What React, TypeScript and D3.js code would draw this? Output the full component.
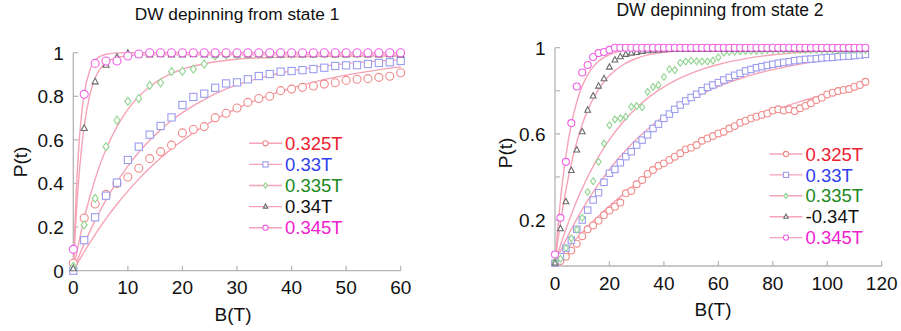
import React from "react";
import * as d3 from "d3";

// ---------- DATA ----------
const seriesNames = ["0.325T", "0.33T", "0.335T", "0.34T", "0.345T"];
const seriesNamesRight = ["0.325T", "0.33T", "0.335T", "-0.34T", "0.345T"];

// Left panel (state 1): measured points at B = 0,2,...,60
const leftB = [0,2,4,6,8,10,12,14,16,18,20,22,24,26,28,30,32,34,36,38,40,42,44,46,48,50,52,54,56,58,60];
const left325 = [0.034,0.242,0.306,0.35,0.40,0.43,0.47,0.514,0.546,0.576,0.632,0.648,0.661,0.702,0.722,0.746,0.772,0.79,0.80,0.826,0.833,0.841,0.847,0.856,0.862,0.873,0.878,0.881,0.887,0.892,0.908];
const left33 = [0,0.14,0.245,0.344,0.404,0.508,0.569,0.624,0.664,0.703,0.76,0.797,0.812,0.839,0.859,0.864,0.878,0.893,0.902,0.913,0.916,0.92,0.925,0.931,0.939,0.942,0.943,0.948,0.953,0.956,0.962];
const left335 = [0.02,0.21,0.332,0.569,0.69,0.777,0.79,0.85,0.862,0.913,0.915,0.925,0.948,0.986,0.99,0.99,0.992,0.992,0.993,0.994,0.994,0.995,0.995,0.995,0.996,0.996,0.996,0.997,0.997,0.997,0.998];
const left34 = [0.01,0.653,0.867,0.943,0.979,0.997,0.99,0.99,0.991,0.99,0.99,0.991,0.99,0.99,0.991,0.99,0.99,0.991,0.99,0.99,0.991,0.99,0.99,0.991,0.99,0.99,0.991,0.99,0.99,0.991,0.99];
const left345 = [0.098,0.809,0.951,0.962,0.962,0.985,0.994,1,1,1,1,1,1,1,1,1,1,1,1,1,1,1,1,1,1,1,1,1,1,1,1];

// Left panel fitted curves, read at these B values
const leftFitB = [0,0.5,1,1.5,2,3,4,5,6,8,10,12,14,16,18,20,25,30,35,40,45,50,55,60];
const leftFit325 = [0,0.0225,0.0444,0.066,0.0869,0.1275,0.166,0.203,0.239,0.305,0.365,0.42,0.471,0.517,0.559,0.597,0.679,0.744,0.796,0.838,0.871,0.897,0.918,0.935];
const leftFit33 = [0,0.032,0.0635,0.094,0.123,0.178,0.231,0.279,0.325,0.407,0.48,0.543,0.598,0.646,0.689,0.725,0.799,0.852,0.889,0.917,0.936,0.95,0.96,0.967];
const leftFit335 = [0,0.066,0.128,0.185,0.239,0.336,0.42,0.494,0.557,0.661,0.74,0.799,0.844,0.879,0.904,0.924,0.954,0.97,0.977,0.981,0.983,0.984,0.985,0.985];
const leftFit34 = [0,0.24,0.422,0.559,0.664,0.803,0.883,0.929,0.955,0.978,0.986,0.989,0.99,0.99,0.99,0.99,0.99,0.99,0.99,0.99,0.99,0.99,0.99,0.99];
const leftFit345 = [0,0.341,0.565,0.713,0.811,0.918,0.964,0.984,0.993,0.999,1,1,1,1,1,1,1,1,1,1,1,1,1,1];

// Right panel (state 2): measured points at B = 0,2,...,114
const rightB = [0,2,4,6,8,10,12,14,16,18,20,22,24,26,28,30,32,34,36,38,40,42,44,46,48,50,52,54,56,58,60,62,64,66,68,70,72,74,76,78,80,82,84,86,88,90,92,94,96,98,100,102,104,106,108,110,112,114];
const right325 = [0,0.01,0.03,0.058,0.09,0.125,0.157,0.175,0.197,0.223,0.244,0.262,0.281,0.324,0.335,0.366,0.386,0.414,0.432,0.452,0.463,0.479,0.494,0.51,0.528,0.536,0.548,0.568,0.579,0.59,0.602,0.61,0.625,0.636,0.652,0.661,0.672,0.68,0.688,0.695,0.708,0.714,0.708,0.714,0.706,0.719,0.73,0.742,0.757,0.768,0.783,0.791,0.799,0.804,0.808,0.819,0.827,0.842];
const right33 = [0,0.03,0.069,0.107,0.157,0.2,0.246,0.293,0.327,0.375,0.417,0.435,0.466,0.494,0.517,0.548,0.571,0.595,0.625,0.645,0.672,0.692,0.714,0.734,0.753,0.769,0.784,0.8,0.816,0.827,0.838,0.85,0.862,0.872,0.881,0.892,0.899,0.907,0.912,0.918,0.923,0.928,0.932,0.935,0.94,0.943,0.946,0.947,0.949,0.952,0.954,0.955,0.958,0.96,0.961,0.963,0.966,0.969];
const right335 = [0.007,0.02,0.07,0.115,0.155,0.21,0.33,0.38,0.47,0.555,0.64,0.667,0.672,0.68,0.726,0.729,0.724,0.795,0.818,0.826,0.864,0.9,0.896,0.93,0.936,0.94,0.937,0.936,0.936,0.94,0.955,0.977,0.98,0.982,0.984,0.985,0.985,0.985,0.986,0.99,0.99,0.99,0.99,0.99,0.99,0.99,0.99,0.99,0.99,0.99,0.99,0.99,0.99,0.99,0.99,0.99,0.99,0.99];
const right34 = [0,0.16,0.285,0.43,0.525,0.61,0.71,0.776,0.822,0.856,0.91,0.943,0.958,0.969,0.975,0.978,0.983,0.986,0.989,0.99,0.991,0.992,0.992,0.992,0.992,0.992,0.992,0.992,0.992,0.992,0.992,0.992,0.992,0.992,0.992,0.992,0.992,0.992,0.992,0.992,0.992,0.992,0.992,0.992,0.992,0.992,0.992,0.992,0.992,0.992,0.992,0.992,0.992,0.992,0.992,0.992,0.992,0.992];
const right345 = [0.04,0.21,0.47,0.65,0.82,0.885,0.92,0.957,0.975,0.98,0.99,1,1,1,1,1,1,1,1,1,1,1,1,1,1,1,1,1,1,1,1,1,1,1,1,1,1,1,1,1,1,1,1,1,1,1,1,1,1,1,1,1,1,1,1,1,1,1];

// Right panel fitted curves
const rightFitB = [0,1,2,3,4,6,8,10,12,14,16,18,20,25,30,35,40,45,50,55,60,70,80,90,100,115];
const rightFit325 = [0,0.015,0.03,0.045,0.06,0.088,0.116,0.143,0.169,0.194,0.218,0.242,0.265,0.319,0.37,0.416,0.46,0.5,0.537,0.571,0.603,0.659,0.708,0.75,0.785,0.83];
const rightFit33 = [0,0.028,0.056,0.082,0.108,0.157,0.204,0.249,0.29,0.33,0.367,0.401,0.435,0.51,0.576,0.632,0.681,0.724,0.76,0.792,0.82,0.865,0.898,0.924,0.943,0.963];
const rightFit335 = [0,0.042,0.082,0.12,0.157,0.225,0.289,0.347,0.4,0.449,0.494,0.535,0.573,0.655,0.721,0.775,0.818,0.853,0.881,0.904,0.922,0.949,0.967,0.978,0.986,0.992];
const rightFit34 = [0,0.099,0.187,0.267,0.339,0.463,0.562,0.644,0.709,0.763,0.807,0.843,0.871,0.921,0.951,0.969,0.979,0.985,0.989,0.991,0.993,0.994,0.995,0.995,0.995,0.995];
const rightFit345 = [0,0.158,0.292,0.404,0.498,0.645,0.748,0.822,0.874,0.911,0.937,0.955,0.968,0.987,0.994,0.998,0.999,1,1,1,1,1,1,1,1,1];

const leftXTicks = [0,10,20,30,40,50,60];
const leftYTicks = [0,0.2,0.4,0.6,0.8,1];
const leftYLabels = ["0","0.2","0.4","0.6","0.8","1"];
const rightXTicks = [0,20,40,60,80,100,120];
const rightYTicks = [0.2,0.4,0.6,0.8,1];
const rightYLabels = ["0.2","","0.6","","1"];

// ---------- STYLE ----------
const FONT = "'Liberation Sans', Arial, Helvetica, sans-serif";
const CURVE = "#f5a3b6";
const AXIS = "#b4b4b4";
const markerColors = ["#f08a8a", "#9c9cf0", "#8fd48f", "#6a6a6a", "#f060e6"];
const textColors = ["#ee2030", "#3040ee", "#208a20", "#111111", "#f020d0"];
const shapes = ["circle", "square", "diamond", "triangle", "circle"];

function Marker({ shape, x, y, s, color }) {
  if (shape === "circle") return <circle cx={x} cy={y} r={s} fill="white" stroke={color} strokeWidth={1.1} />;
  if (shape === "square") return <rect x={x - s} y={y - s} width={2 * s} height={2 * s} fill="white" stroke={color} strokeWidth={1.1} />;
  if (shape === "diamond") return <path d={`M${x},${y - s}L${x + s * 0.75},${y}L${x},${y + s}L${x - s * 0.75},${y}Z`} fill="white" stroke={color} strokeWidth={1.1} />;
  return <path d={`M${x},${y - s}L${x + s * 0.85},${y + s * 0.6}L${x - s * 0.85},${y + s * 0.6}Z`} fill="white" stroke={color} strokeWidth={1.1} />;
}

function Panel({ cfg }) {
  const x = d3.scaleLinear().domain(cfg.xDomain).range(cfg.xRange);
  const y = d3.scaleLinear().domain([0, 1]).range(cfg.yRange);
  const axisY = y(cfg.axisVal);
  const x0 = x(0);
  const line = d3.line().curve(d3.curveMonotoneX);
  const sizes = cfg.markerSizes;
  return (
    <g>
      <text x={cfg.title[0]} y={cfg.title[1]} textAnchor="middle" fontSize={cfg.titleSize} fill="#111" fontFamily={FONT}>{cfg.titleText}</text>
      {/* axes */}
      <line x1={x0} x2={x0} y1={axisY} y2={y(1)} stroke={AXIS} strokeWidth={1.3} />
      <line x1={x0} x2={x(cfg.xDomain[1])} y1={axisY} y2={axisY} stroke={AXIS} strokeWidth={1.3} />
      {cfg.xTicks.map((t) => (
        <g key={"xt" + t}>
          <line x1={x(t)} x2={x(t)} y1={axisY} y2={axisY - 5} stroke={AXIS} strokeWidth={1.2} />
          <text x={x(t)} y={axisY + cfg.xLabelDy} textAnchor="middle" fontSize={19} fill="#111" fontFamily={FONT}>{t}</text>
        </g>
      ))}
      {cfg.yTicks.map((t, i) => (
        <g key={"yt" + t}>
          <line x1={x0} x2={x0 + 5} y1={y(t)} y2={y(t)} stroke={AXIS} strokeWidth={1.2} />
          <text x={x0 - 9.5} y={y(t)} dy="0.36em" textAnchor="end" fontSize={19} fill="#111" fontFamily={FONT}>{cfg.yLabels[i]}</text>
        </g>
      ))}
      <text x={cfg.xLabel[0]} y={cfg.xLabel[1]} textAnchor="middle" fontSize={19} fill="#111" fontFamily={FONT}>B(T)</text>
      <text transform={`translate(${cfg.yLabel[0]},${cfg.yLabel[1]}) rotate(-90)`} dy="0.36em" textAnchor="middle" fontSize={19} fill="#111" fontFamily={FONT}>P(t)</text>
      {/* fitted curves */}
      {cfg.fits.map((f, k) => (
        <path key={"f" + k} d={line(cfg.fitB.map((b, i) => [x(b), y(f[i])]))} fill="none" stroke={CURVE} strokeWidth={1.4} />
      ))}
      {/* data markers */}
      {cfg.series.map((s, k) => (
        <g key={"s" + k}>
          {s.map((v, i) => (
            <Marker key={i} shape={shapes[k]} x={x(cfg.B[i])} y={y(v)} s={sizes[k]} color={markerColors[k]} />
          ))}
        </g>
      ))}
      {/* legend */}
      {cfg.names.map((n, k) => {
        const ly = cfg.legend.y0 + k * cfg.legend.dy;
        const lx = cfg.legend.x0;
        return (
          <g key={"l" + k}>
            <line x1={lx} x2={lx + 33} y1={ly} y2={ly} stroke={CURVE} strokeWidth={1.4} />
            <Marker shape={shapes[k]} x={lx + 16.5} y={ly} s={2.6} color={markerColors[k]} />
            <text x={lx + 36} y={ly} dy="0.36em" fontSize={18.5} fill={textColors[k]} fontFamily={FONT}>{n}</text>
          </g>
        );
      })}
    </g>
  );
}

const leftCfg = {
  xDomain: [0, 60], xRange: [73.3, 400.7], yRange: [270.7, 52.7], axisVal: 0,
  xTicks: leftXTicks, yTicks: leftYTicks, yLabels: leftYLabels, xLabelDy: 23,
  title: [237, 19.5], titleSize: 17.3, titleText: "DW depinning from state 1",
  xLabel: [233, 320.5], yLabel: [20, 162],
  B: leftB, series: [left325, left33, left335, left34, left345],
  fitB: leftFitB, fits: [leftFit325, leftFit33, leftFit335, leftFit34, leftFit345],
  markerSizes: [4, 3.6, 4, 3.6, 4],
  names: seriesNames, legend: { x0: 249, y0: 143.3, dy: 21.1 },
};

const rightCfg = {
  xDomain: [0, 120], xRange: [555, 881.7], yRange: [263.1, 47.7], axisVal: -0.0135,
  xTicks: rightXTicks, yTicks: rightYTicks, yLabels: rightYLabels, xLabelDy: 23.5,
  title: [720, 16], titleSize: 17.5, titleText: "DW depinning from state 2",
  xLabel: [713, 315.5], yLabel: [505, 153],
  B: rightB, series: [right325, right33, right335, right34, right345],
  fitB: rightFitB, fits: [rightFit325, rightFit33, rightFit335, rightFit34, rightFit345],
  markerSizes: [3.4, 3.2, 3.4, 3.4, 3.5],
  names: seriesNamesRight, legend: { x0: 769.5, y0: 154, dy: 20.9 },
};

export default function App() {
  return (
    <svg width={901} height={331} style={{ position: "absolute", left: 0, top: 0, background: "white" }}>
      <rect width={901} height={331} fill="white" />
      <Panel cfg={leftCfg} />
      <Panel cfg={rightCfg} />
    </svg>
  );
}
